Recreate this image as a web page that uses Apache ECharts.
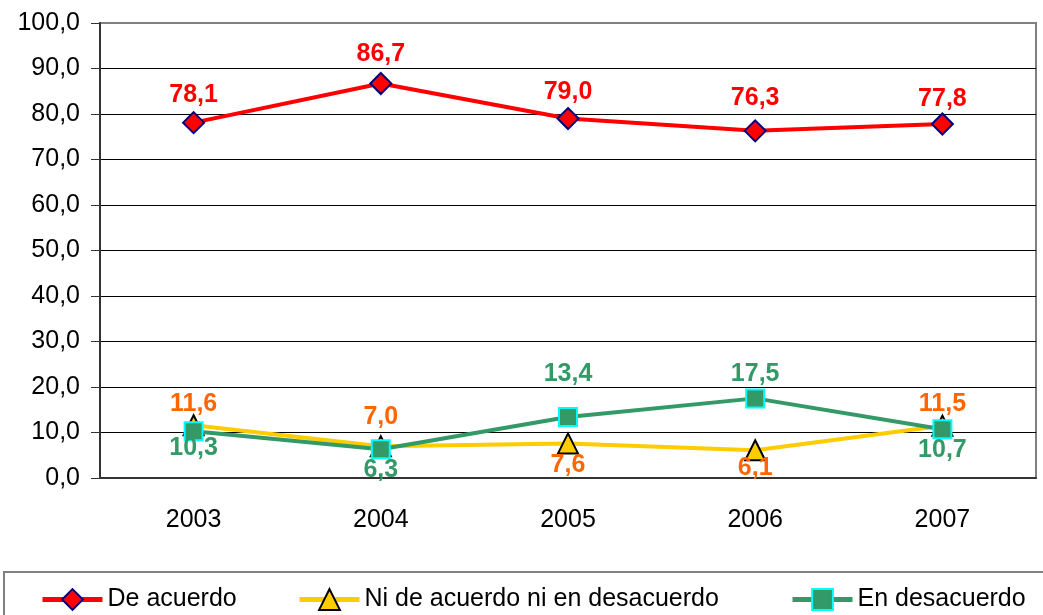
<!DOCTYPE html>
<html>
<head>
<meta charset="utf-8">
<script src="https://cdn.jsdelivr.net/npm/echarts@6/dist/echarts.min.js"></script>
<style>
  html, body { margin: 0; padding: 0; background: #fff; }
  #chart { width: 1043px; height: 615px; }
</style>
</head>
<body>
<div id="chart"></div>
<script>
const years = ['2003', '2004', '2005', '2006', '2007'];
const deAcuerdo = [78.1, 86.7, 79.0, 76.3, 77.8];
const niNi = [11.6, 7.0, 7.6, 6.1, 11.5];
const enDesacuerdo = [10.3, 6.3, 13.4, 17.5, 10.7];

// label placement per point (Excel put some above, some below)
const redPos = ['top', 'top', 'top', 'top', 'top'];
const redDist = [4, 5, 2, 9, 1];
const yelPos = ['top', 'top', 'bottom', 'bottom', 'top'];
const yelDist = [-2, 6, -2, -6, -2];
const grnPos = ['bottom', 'bottom', 'top', 'top', 'bottom'];
const grnDist = [-6, -2, 20, 2, -2];

const comma = v => Number(v).toFixed(1).replace('.', ',');
const font = 'Liberation Sans, Arial, sans-serif';

function points(vals, pos, dist) {
    return vals.map((v, i) => ({ value: v, label: { position: pos[i], distance: dist[i] } }));
}

function lineSeries(name, vals, pos, dist, color, labelColor, symbol, size, border) {
    return {
        name: name,
        type: 'line',
        data: points(vals, pos, dist),
        symbol: symbol,
        symbolSize: size,
        lineStyle: { color: color, width: 4 },
        itemStyle: { color: color, borderColor: border, borderWidth: 2 },
        label: {
            show: true,
            color: labelColor,
            fontFamily: font,
            fontSize: 25,
            fontWeight: 'bold',
            formatter: p => comma(p.value)
        },
        emphasis: { disabled: true },
        animation: false
    };
}

function legendAt(x, name) {
    return {
        data: [name],
        left: x,
        top: 582,
        itemWidth: 60,
        itemHeight: 26,
        itemGap: 5,
        lineStyle: { width: 5 },
        textStyle: { fontFamily: font, fontSize: 25, color: '#000' },
        selectedMode: false
    };
}

const chart = echarts.init(document.getElementById('chart'));
chart.setOption({
    backgroundColor: '#fff',
    animation: false,
    grid: {
        left: 100, top: 23, right: 7, bottom: 137,
        show: true, borderColor: '#808080', borderWidth: 2
    },
    xAxis: {
        type: 'category',
        data: years,
        axisLine: { lineStyle: { color: '#333', width: 2 } },
        axisTick: { length: 8, lineStyle: { color: '#333', width: 1 } },
        axisLabel: { color: '#000', fontFamily: font, fontSize: 25, margin: 30 }
    },
    yAxis: {
        type: 'value',
        min: 0, max: 100, interval: 10,
        axisLine: { show: true, lineStyle: { color: '#333', width: 2 } },
        axisTick: { show: true, length: 9, lineStyle: { color: '#333', width: 1 } },
        splitLine: { show: true, showMaxLine: false, lineStyle: { color: '#000', width: 1 } },
        axisLabel: { color: '#000', fontFamily: font, fontSize: 25, margin: 20, formatter: comma }
    },
    legend: [
        legendAt(35, 'De acuerdo'),
        legendAt(292, 'Ni de acuerdo ni en desacuerdo'),
        legendAt(785, 'En desacuerdo')
    ],
    graphic: [{
        type: 'rect',
        shape: { x: 4, y: 572, width: 1100, height: 100 },
        style: { fill: 'none', stroke: '#808080', lineWidth: 2 },
        silent: true
    }],
    series: [
        lineSeries('De acuerdo', deAcuerdo, redPos, redDist, '#ff0000', '#ff0000', 'diamond', 21, '#000080'),
        lineSeries('Ni de acuerdo ni en desacuerdo', niNi, yelPos, yelDist, '#ffcc00', '#ff6600', 'triangle', 20, '#000000'),
        lineSeries('En desacuerdo', enDesacuerdo, grnPos, grnDist, '#339966', '#339966', 'rect', 18, '#00ffff')
    ]
});
</script>
</body>
</html>
